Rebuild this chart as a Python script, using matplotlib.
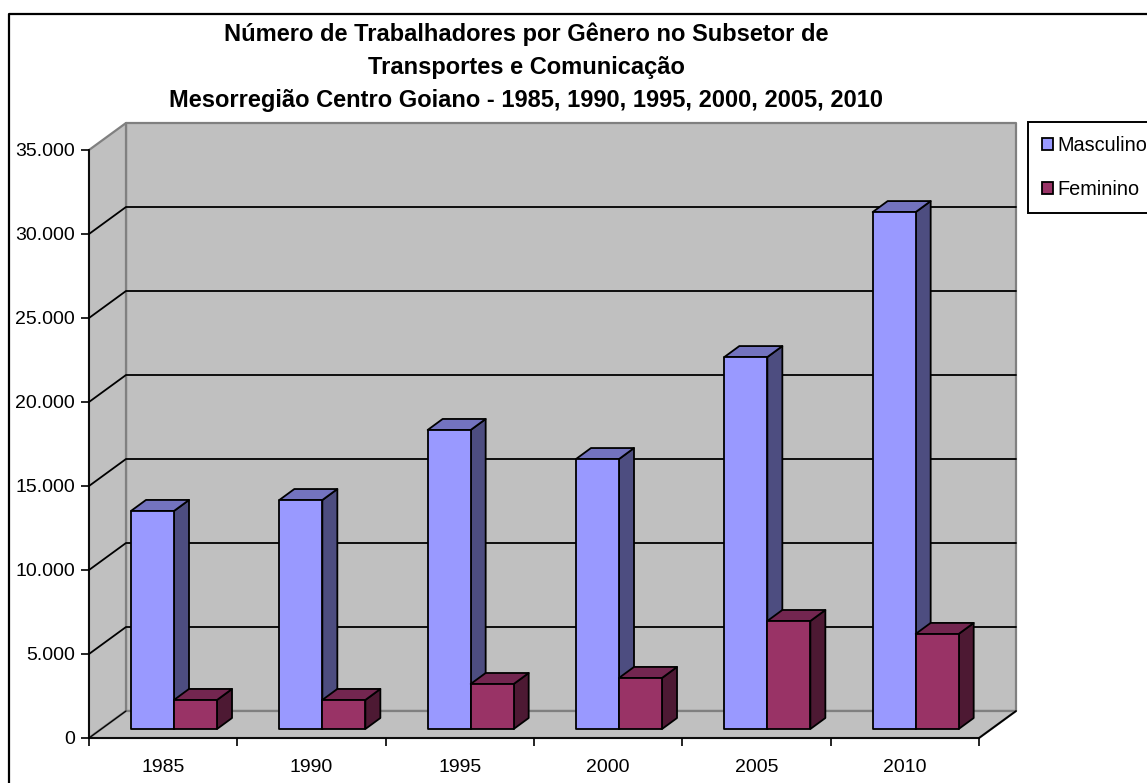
import matplotlib
matplotlib.use('Agg')
import matplotlib.pyplot as plt
from matplotlib.lines import Line2D
from matplotlib.patches import Polygon, Patch
from matplotlib.ticker import FuncFormatter

plt.rcParams['font.family'] = ['Liberation Sans', 'DejaVu Sans']

years = ['1985', '1990', '1995', '2000', '2005', '2010']
masculino = [12980, 13630, 17800, 16070, 22140, 30770]
feminino = [1730, 1730, 2680, 3040, 6430, 5660]

title = ('Número de Trabalhadores por Gênero no Subsetor de\n'
         'Transportes e Comunicação\n'
         'Mesorregião Centro Goiano - 1985, 1990, 1995, 2000, 2005, 2010')

W, H = 1147, 783
wall_col = '#c0c0c0'
wall_edge = '#808080'
masc_cols = ('#9999ff', '#7373bf', '#4d4d80')
fem_cols = ('#993366', '#732650', '#4d1933')

# depth of the fake 3d box, in data units
depth_x = 37 / 148.33
depth_y = 27 / 0.0168
y_max = 35000

fig = plt.figure(figsize=(W / 100, H / 100), dpi=100, facecolor='white')
ax = fig.add_axes([89 / W, 1 - 738 / H, 890 / W, 588 / H])
ax.set_xlim(0, len(years))
ax.set_ylim(0, y_max)
ax.patch.set_visible(False)


def poly(pts, fc, ec, lw=1.0, z=1):
    p = Polygon(pts, closed=True, facecolor=fc, edgecolor=ec, linewidth=lw,
                zorder=z, clip_on=False, joinstyle='round')
    ax.add_patch(p)
    return p


def line(xs, ys, col, lw=1.3, z=2):
    ax.add_line(Line2D(xs, ys, color=col, linewidth=lw, zorder=z,
                       clip_on=False, solid_capstyle='round'))


n = len(years)
# walls and floor
poly([(depth_x, depth_y), (n + depth_x, depth_y), (n + depth_x, y_max + depth_y),
      (depth_x, y_max + depth_y)], wall_col, wall_edge, 1.6)
poly([(0, 0), (depth_x, depth_y), (depth_x, y_max + depth_y), (0, y_max)],
     wall_col, wall_edge, 1.6)
poly([(0, 0), (n, 0), (n + depth_x, depth_y), (depth_x, depth_y)],
     wall_col, wall_edge, 1.6)

# gridlines
for v in range(5000, y_max, 5000):
    line([0, depth_x, n + depth_x], [v, v + depth_y, v + depth_y], 'black')
line([0, depth_x], [0, depth_y], 'black', 0.9)
line([n, n + depth_x], [0, depth_y], 'black')


def bar3d(x0, w, v, cols):
    # front plane of the bars sits a third of the way into the box
    fx, fy = depth_x / 3, depth_y / 3
    bx, by = depth_x * 0.405, depth_y * 0.407
    left, right = x0 + fx, x0 + w + fx
    base, top = fy, v + fy
    z = 3 + x0
    poly([(right, base), (right + bx, base + by), (right + bx, top + by), (right, top)],
         cols[2], 'black', 1.3, z)
    poly([(left, top), (right, top), (right + bx, top + by), (left + bx, top + by)],
         cols[1], 'black', 1.3, z)
    return poly([(left, base), (right, base), (right, top), (left, top)],
                cols[0], 'black', 1.3, z)


bar_w = 0.29
for i in range(n):
    bar3d(i + 0.2, bar_w, masculino[i], masc_cols)
    bar3d(i + 0.2 + bar_w, bar_w, feminino[i], fem_cols)

# axes
ax.spines['top'].set_visible(False)
ax.spines['right'].set_visible(False)
for s in ('left', 'bottom'):
    ax.spines[s].set_linewidth(1.3)
    ax.spines[s].set_zorder(2)

ax.set_yticks(range(0, y_max + 1, 5000))
ax.yaxis.set_major_formatter(FuncFormatter(lambda v, pos: f'{int(v):,}'.replace(',', '.')))
ax.tick_params(axis='y', length=6, width=1.2, pad=4, labelsize=14)
ax.set_xticks(range(n + 1))
ax.set_xticklabels([])
ax.set_xticks([i + 0.5 for i in range(n)], minor=True)
ax.set_xticklabels(years, minor=True)
ax.tick_params(axis='x', which='major', length=6, width=1.2)
ax.tick_params(axis='x', which='minor', length=0, pad=15, labelsize=14)

fig.suptitle(title, x=526 / W, y=1 - 22 / H, va='top', ha='center',
             fontsize=17, fontweight='bold', linespacing=1.57)

# legend
handles = [Patch(facecolor=masc_cols[0], edgecolor='black', linewidth=1.3, label='Masculino'),
           Patch(facecolor=fem_cols[0], edgecolor='black', linewidth=1.3, label='Feminino')]
fig.legend(handles=handles, loc='upper left', bbox_to_anchor=(1028 / W, 1 - 122 / H),
           borderaxespad=0, fontsize=14.3, frameon=True, fancybox=False,
           edgecolor='black', framealpha=1, handlelength=0.55, handleheight=0.55,
           handletextpad=0.25, labelspacing=1.25, borderpad=0.7)
fig.legends[0].get_frame().set_linewidth(1.4)

# chart border, open on the right and bottom of the crop
fig.add_artist(Line2D([9 / W, 9 / W, 1], [0, 1 - 14 / H, 1 - 14 / H],
                      color='black', linewidth=1.6))

plt.savefig('out.png', dpi=100)
